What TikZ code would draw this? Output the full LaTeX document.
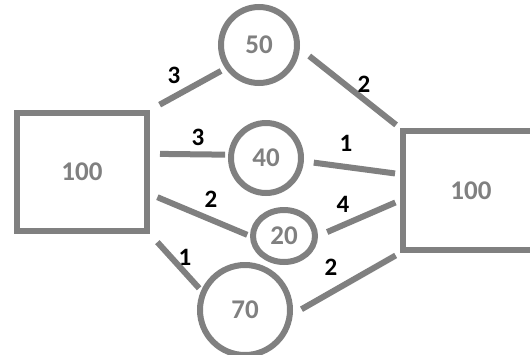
\documentclass[tikz,border=0pt]{standalone}
\usepackage{fontspec}
\setmainfont{Carlito}
\usetikzlibrary{shapes.geometric}
\definecolor{netgray}{RGB}{128,128,128}

\begin{document}
\begin{tikzpicture}[x=1pt, y=-1pt,
		box/.style={draw=netgray, line width=6pt, rectangle, text=netgray, font=\bfseries\fontsize{27}{31}\selectfont},
		pot/.style={draw=netgray, line width=6pt, circle, inner sep=0pt, text=netgray, font=\bfseries\fontsize{27}{31}\selectfont},
		pipe/.style={draw=netgray, line width=6pt},
		weight/.style={font=\bfseries\fontsize{25}{29}\selectfont, inner sep=0pt}]
			%%%%% START %%%%%
			\useasboundingbox (0, 0) rectangle (530, 354);
			\fill[white] (0, 0) rectangle (530, 354);
			
			\node[box, minimum width=130, minimum height=118] (src) at (82, 172) {100};
			\node[box, minimum width=136, minimum height=119] (snk) at (471, 190.5) {100};
			
			\node[pot, minimum size=76] (n50) at (259, 45) {50};
			\node[pot, minimum size=70] (n40) at (266, 158) {40};
			\node[pot, ellipse, minimum width=62, minimum height=52] (n20) at (284, 236) {20};
			\node[pot, minimum size=90] (n70) at (245, 310) {70};
			
			\draw[pipe, shorten <=11, shorten >=5] (src.north east) -- (n50.215);
			\draw[pipe, shorten <=12, shorten >=5] (n50.-5) -- (snk.north west);
			
			\draw[pipe, shorten <=10, shorten >=3] (src.15) -- (n40.175);
			\draw[pipe, shorten <=10, shorten >=5] (n40.-5) -- (snk.167);
			
			\draw[pipe, shorten <=8, shorten >=3] (src.-18) -- (n20.west);
			\draw[pipe, shorten <=10, shorten >=5] (n20.east) -- (snk.188);
			
			\draw[pipe, shorten <=11, shorten >=3] (src.south east) -- (n70.156);
			\draw[pipe, shorten <=10, shorten >=5] (n70.-5) -- (snk.south west);
			
			\node[weight] (w1) at (174, 75) {3};
			\node[weight] (w2) at (364, 84) {2};
			\node[weight] (w3) at (198, 137) {3};
			\node[weight] (w4) at (346, 143) {1};
			\node[weight] (w5) at (211, 199) {2};
			\node[weight] (w6) at (343, 204) {4};
			\node[weight] (w7) at (185, 257) {1};
			\node[weight] (w8) at (331, 267) {2};
			%%%%% END %%%%%
\end{tikzpicture}
\end{document}
